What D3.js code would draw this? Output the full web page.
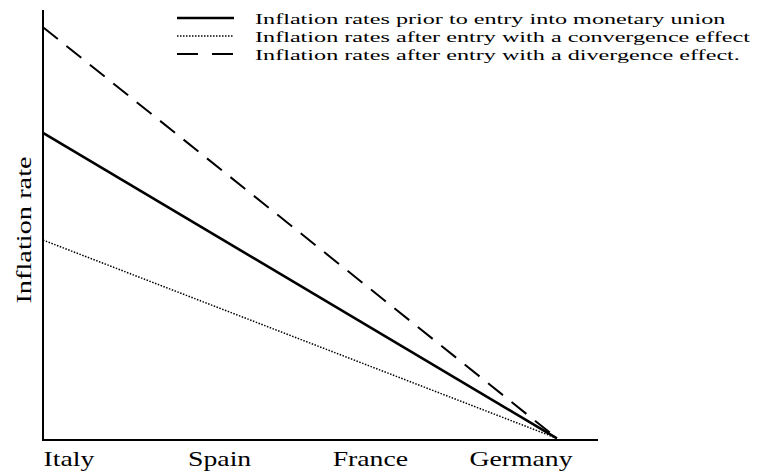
<!DOCTYPE html>
<html>
<head>
<meta charset="utf-8">
<script src="https://cdn.jsdelivr.net/npm/d3@7"></script>
<style>
  body { margin: 0; background: #fff; }
  text { font-family: "Liberation Serif", "DejaVu Serif", serif; fill: #000; }
</style>
</head>
<body>
<div id="chart"></div>
<script>
const countries = ["Italy", "Spain", "France", "Germany"];
// relative position along the country axis (Italy = 0) and inflation level
const lineX = [0, 0.926];
const priorEntry = [71.4, 0.4];
const convergence = [46.5, 0.4];
const divergence = [96, 0.4];
const legendLabels = [
    "Inflation rates prior to entry into monetary union",
    "Inflation rates after entry with a convergence effect",
    "Inflation rates after entry with a divergence effect."
];

const width = 779, height = 475;
// the scanned figure is wider than it is tall, so text gets stretched sideways
const stretch = 1.32;

const svg = d3.select("#chart").append("svg")
    .attr("width", width)
    .attr("height", height);

const x = d3.scaleLinear().domain([0, 1]).range([43, 598]);
const y = d3.scaleLinear().domain([0, 100]).range([440, 10]);
const xCat = d3.scalePoint().domain(countries).range([69, 521]);

const series = [
    {values: priorEntry, width: 2.6, dash: null},
    {values: convergence, width: 1.5, dash: "1.5,1.5"},
    {values: divergence, width: 2, dash: "19,11"}
];

const line = d3.line()
    .x((d, i) => x(lineX[i]))
    .y(d => y(d));

svg.selectAll("path.series")
    .data(series)
    .join("path")
    .attr("class", "series")
    .attr("fill", "none")
    .attr("stroke", "#000")
    .attr("stroke-width", d => d.width)
    .attr("stroke-dasharray", d => d.dash)
    .attr("d", d => line(d.values));

// axes
svg.append("line")
    .attr("x1", x(0)).attr("x2", x(0))
    .attr("y1", y(100)).attr("y2", y(0))
    .attr("stroke", "#000").attr("stroke-width", 2);
svg.append("line")
    .attr("x1", x(0) - 1).attr("x2", x(1))
    .attr("y1", y(0)).attr("y2", y(0))
    .attr("stroke", "#000").attr("stroke-width", 2);

svg.selectAll("text.country")
    .data(countries)
    .join("text")
    .attr("class", "country")
    .attr("transform", d => `translate(${xCat(d)},466) scale(${stretch},1)`)
    .attr("text-anchor", "middle")
    .style("font-size", "21px")
    .text(d => d);

svg.append("text")
    .attr("transform", `translate(31,230) rotate(-90) scale(${stretch},1)`)
    .attr("text-anchor", "middle")
    .style("font-size", "21.5px")
    .text("Inflation rate");

// legend
const legend = svg.selectAll("g.legend")
    .data(series)
    .join("g")
    .attr("class", "legend")
    .attr("transform", (d, i) => `translate(177,${18 + i * 18})`);

legend.append("line")
    .attr("x1", 0).attr("x2", 57)
    .attr("y1", 0).attr("y2", 0)
    .attr("stroke", "#000")
    .attr("stroke-width", d => d.width)
    .attr("stroke-dasharray", (d, i) => i === 2 ? "21,14" : d.dash);

legend.append("text")
    .attr("transform", "translate(78,6) scale(1.56,1)")
    .style("font-size", "15.5px")
    .text((d, i) => legendLabels[i]);
</script>
</body>
</html>
